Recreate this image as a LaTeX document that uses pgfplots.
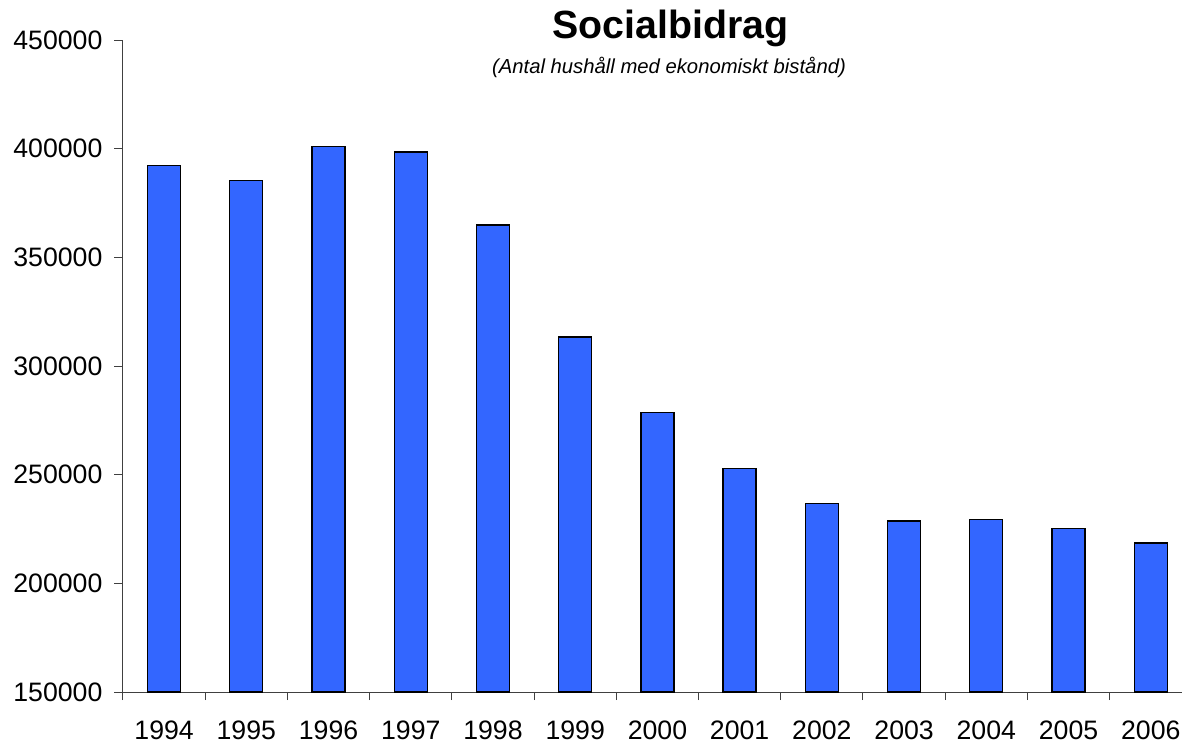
\documentclass[border=0pt]{standalone}
\usepackage{pgfplots}
\pgfplotsset{compat=1.18}
\usepackage{fontspec}
\setmainfont{Liberation Sans}
\definecolor{barblue}{RGB}{51,102,255}
\definecolor{axgray}{RGB}{64,64,64}
\begin{document}
\begin{tikzpicture}
\begin{axis}[
  name=ax,
  scale only axis,
  width=794.25pt, height=489pt,
  xmin=-0.5, xmax=12.38,
  ymin=150000, ymax=450000,
  ytick={150000,200000,250000,300000,350000,400000,450000},
  yticklabels={150000,200000,250000,300000,350000,400000,450000},
  xtick={0,1,2,3,4,5,6,7,8,9,10,11,12},
  xticklabels={1994,1995,1996,1997,1998,1999,2000,2001,2002,2003,2004,2005,2006},
  minor xtick={-0.5,0.5,1.5,2.5,3.5,4.5,5.5,6.5,7.5,8.5,9.5,10.5,11.5},
  axis x line*=bottom, axis y line*=left,
  axis line style={axgray, line width=0.75pt},
  tick align=outside,
  major x tick style={draw=none},
  minor x tick style={axgray, line width=0.75pt},
  minor tick length=6pt,
  ytick style={axgray, line width=0.75pt},
  major tick length=6.75pt,
  scaled y ticks=false,
  tick label style={font=\fontsize{20}{24}\selectfont},
  xticklabel style={anchor=base, inner sep=0pt, yshift=-28.6pt},
  yticklabel style={anchor=east, inner sep=0pt, xshift=-8.5pt},
  ybar, bar width=24.75pt,
  clip=true,
]
\addplot[fill=barblue, draw=black, line width=1pt] coordinates {
  (0,392200) (1,385400) (2,400900) (3,398500) (4,364900) (5,313300)
  (6,278500) (7,252700) (8,236600) (9,228700) (10,229300) (11,225100) (12,218600)
};
\end{axis}
\node[anchor=base, inner sep=0pt, font=\fontsize{29.5}{33}\selectfont\bfseries] at ([shift={(410.5pt,490.3pt)}]ax.south west) {Socialbidrag};
\node[anchor=base, inner sep=0pt, font=\fontsize{15.2}{18}\selectfont\itshape] at ([shift={(409.5pt,464pt)}]ax.south west) {(Antal hushåll med ekonomiskt bistånd)};
\pgfresetboundingbox
\path[use as bounding box] ([shift={(-92.25pt,-39pt)}]ax.south west) rectangle ([shift={(794.25pt,519pt)}]ax.south west);
\end{tikzpicture}
\end{document}
